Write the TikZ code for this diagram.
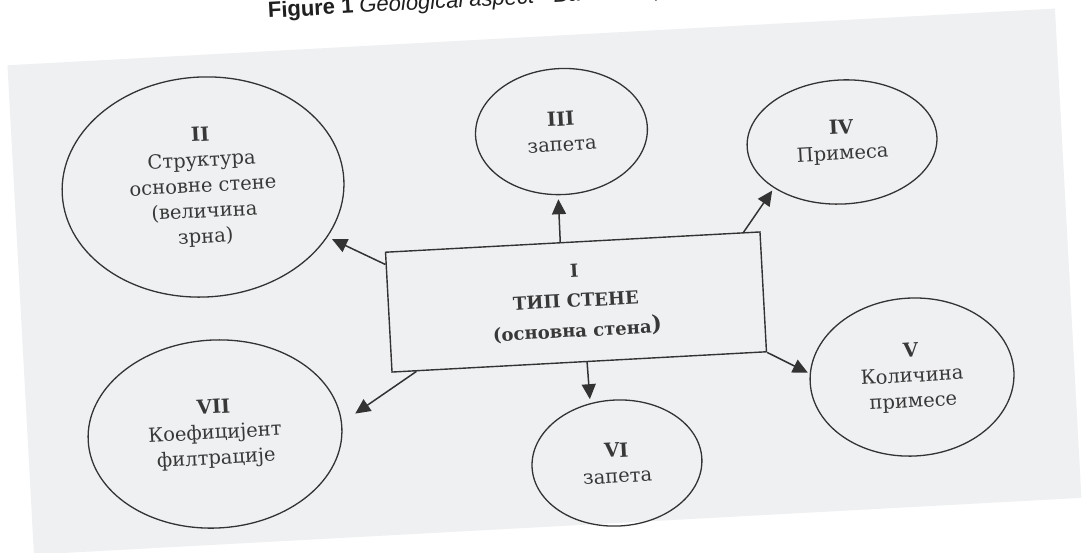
\documentclass[tikz,border=0pt]{standalone}
\usepackage{fontspec}
\setmainfont{DejaVu Serif}
\newfontfamily\titlefont{Liberation Sans}
\usetikzlibrary{arrows.meta,calc,shapes.geometric}
\definecolor{panelgray}{HTML}{EFF0F2}
\definecolor{ink}{HTML}{333333}
\definecolor{txt}{HTML}{383838}
\begin{document}
\begin{tikzpicture}[x=1pt,y=-1pt,
  bubble/.style={draw=ink,line width=1.3pt,ellipse,inner sep=0pt,align=center,
    text=txt,font=\fontsize{19.5}{25.5}\selectfont},
  mainbox/.style={draw=ink,line width=1.4pt,rectangle,inner sep=0pt,align=center,
    text=txt,minimum width=375pt,minimum height=120pt,font=\bfseries\fontsize{18}{30}\selectfont},
  conn/.style={draw=ink,line width=1.5pt,-{Triangle[length=15pt,width=14pt]}}]
\useasboundingbox (0,0) rectangle (1084,553);
\fill[white] (0,0) rectangle (1084,553);
\begin{scope}[rotate around={3.1:(546,282.5)},transform shape]
  \fill[panelgray] (20,36.5) rectangle (1069,526.5);
  \node[anchor=base west,text=black!88] (title) at (279.5,3.2)
    {\titlefont\fontsize{22}{26}\selectfont\textbf{Figure 1} \textit{Geological aspect - Basic comp}};
  \node[mainbox] (box) at (574.9,303.6)
    {I\\ТИП СТЕНЕ\\(основна стена\raisebox{1.5pt}{\fontsize{22}{22}\selectfont)}};
  \node[bubble,minimum width=282pt,minimum height=220pt] (II) at (208.7,168.6)
    {\textbf{II}\\Структура\\основне стене\\(величина\\зрна)};
  \node[bubble,minimum width=172pt,minimum height=126pt] (III) at (569.6,132.6)
    {\textbf{III}\\запета};
  \node[bubble,minimum width=190pt,minimum height=124pt] (IV) at (849.2,158.2)
    {\textbf{IV}\\Примеса};
  \node[bubble,minimum width=204pt,minimum height=158pt] (V) at (906.4,396.7)
    {\textbf{V}\\Количина\\примесе};
  \node[bubble,minimum width=170pt,minimum height=126pt] (VI) at (607.1,466.6)
    {\textbf{VI}\\запета};
  \node[bubble,minimum width=254pt,minimum height=188pt] (VII) at (207.3,415.9)
    {\textbf{VII}\\Коефицијент\\филтрације};
  \coordinate (s2) at ($(box.north west)!0.107!(box.south west)$);
  \coordinate (s3) at ($(box.north west)!0.467!(box.north east)$);
  \coordinate (s4) at ($(box.north west)!0.955!(box.north east)$);
  \coordinate (s6) at ($(box.south west)!0.521!(box.south east)$);
  \coordinate (s7) at ($(box.south west)!0.067!(box.south east)$);
  \draw[conn,shorten >=5pt] (s2) -- (II.335);
  \draw[conn,shorten >=4pt] (s3) -- (III.264);
  \draw[conn,shorten >=3pt] (s4) -- (IV.211);
  \draw[conn,shorten >=2pt] (box.south east) -- (V.175);
  \draw[conn,shorten >=4pt] (s6) -- (VI.111);
  \draw[conn,shorten >=16pt] (s7) -- (VII.2);
\end{scope}
\end{tikzpicture}
\end{document}
